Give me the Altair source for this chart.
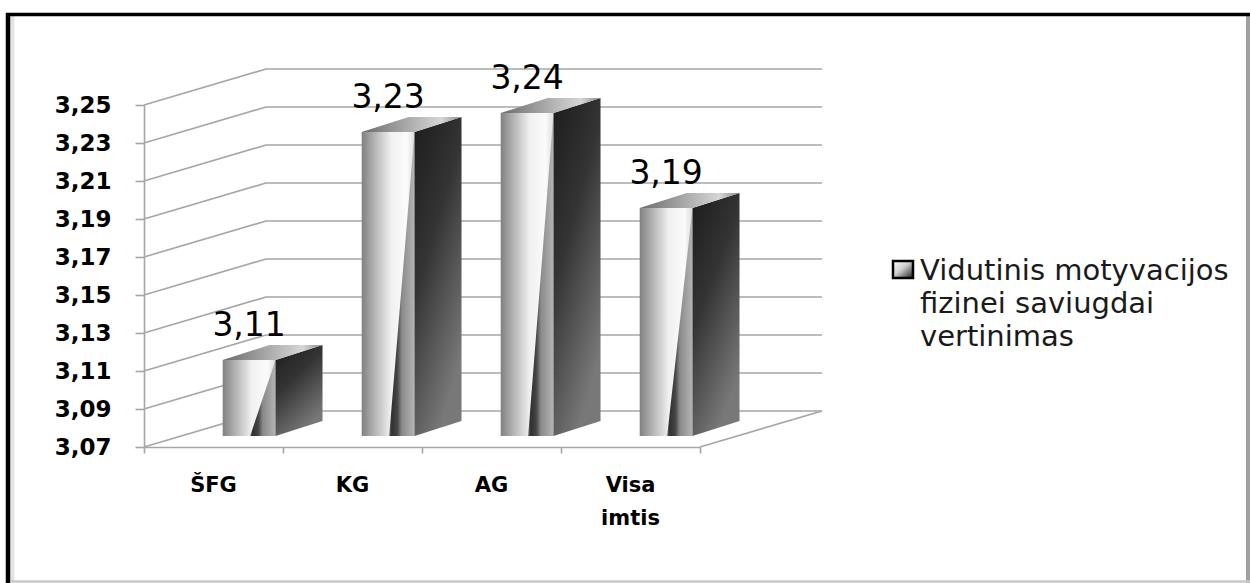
import altair as alt
import pandas as pd

# ---- data -------------------------------------------------------------
categories = ["ŠFG", "KG", "AG", "Visa imtis"]
scores = [3.11, 3.23, 3.24, 3.19]
y_ticks = [3.07, 3.09, 3.11, 3.13, 3.15, 3.17, 3.19, 3.21, 3.23, 3.25]
series_lines = ["Vidutinis motyvacijos", "fizinei saviugdai", "vertinimas"]

# ---- geometry / style --------------------------------------------------
Y_MIN, Y_MAX = 3.07, 3.25
W, H = 556, 342
N = len(categories)
X_PER_PX = N / W
Y_PER_PX = (Y_MAX - Y_MIN) / H

WALL_DX, WALL_DY = 122, 36      # depth of floor / back wall (px)
BAR_DX, BAR_DY = 37, 11         # bars stand a third of the way into the floor
SIDE_DX, SIDE_DY = 47, 15       # visible depth of each column
BAR_L, BAR_R = 0.30, 0.68       # column front face inside its category slot
WEDGE_START = 0.52

GRID = "#a6a6a6"
FONT = "DejaVu Sans"

x_scale = alt.Scale(domain=[0, N], nice=False, zero=False)
y_scale = alt.Scale(domain=[Y_MIN, Y_MAX], nice=False, zero=False)

# one shared axis definition for every layer so the layers merge cleanly
X_AXIS = alt.Axis(values=list(range(N + 1)), labels=False, grid=False, title=None,
                  tickSize=6, tickColor=GRID, tickWidth=1.6,
                  domainColor=GRID, domainWidth=1.6)
Y_AXIS = alt.Axis(values=y_ticks, grid=False, title=None,
                  labelExpr="replace(format(datum.value, '.2f'), '.', ',')",
                  labelFont=FONT, labelFontWeight="bold", labelFontSize=23,
                  labelColor="#000000", labelPadding=24,
                  tickSize=9, tickColor=GRID, tickWidth=1.6,
                  domainColor=GRID, domainWidth=1.6)


def X(field):
    return alt.X(field, type="quantitative", scale=x_scale, axis=X_AXIS)


def Y(field):
    return alt.Y(field, type="quantitative", scale=y_scale, axis=Y_AXIS)


def grad(stops, x1=0, y1=0, x2=1, y2=0):
    return alt.Gradient(
        gradient="linear",
        stops=[alt.GradientStop(color=c, offset=o) for o, c in stops],
        x1=x1, y1=y1, x2=x2, y2=y2,
    )


def comma(v):
    return f"{v:.2f}".replace(".", ",")


# ---- tables ------------------------------------------------------------
grid_df = pd.DataFrame({"tick": y_ticks, "left": 0, "right": N})
floor_df = pd.DataFrame({"tick": [Y_MIN], "right": [N]})

bars = []
wedge, side, top, cat_rows = [], [], [], []
for i, (c, v) in enumerate(zip(categories, scores)):
    x0, x1 = i + BAR_L, i + BAR_R
    bars.append({"cat": c, "x0": x0, "x1": x1, "xc": (x0 + x1) / 2,
                 "value": v, "base": Y_MIN, "label": comma(v)})
    xw = x0 + WEDGE_START * (x1 - x0)
    wedge += [{"cat": c, "px": xw, "top": Y_MIN, "bot": Y_MIN},
              {"cat": c, "px": x1, "top": v, "bot": Y_MIN}]
    sx, sy = SIDE_DX * X_PER_PX, SIDE_DY * Y_PER_PX
    side += [{"cat": c, "px": x1, "top": v, "bot": Y_MIN},
             {"cat": c, "px": x1 + sx, "top": v + sy, "bot": Y_MIN + sy}]
    top += [{"cat": c, "py": v, "xa": x0, "xb": x1},
            {"cat": c, "py": v + sy, "xa": x0 + sx, "xb": x1 + sx}]
    cat_rows.append({"cat": c, "xm": i + 0.5, "base": Y_MIN,
                     "text": c.replace(" ", "\n")})

bars_df = pd.DataFrame(bars)
wedge_df = pd.DataFrame(wedge)
side_df = pd.DataFrame(side)
top_df = pd.DataFrame(top)
cat_df = pd.DataFrame(cat_rows)

# ---- back wall, floor ------------------------------------------------------
wall_diag = alt.Chart(grid_df).mark_rule(
    color=GRID, strokeWidth=1.6, x2Offset=WALL_DX, y2Offset=-WALL_DY
).encode(x=X("left"), x2="left:Q", y=Y("tick"), y2="tick:Q")

wall_back = alt.Chart(grid_df).mark_rule(
    color=GRID, strokeWidth=1.6, xOffset=WALL_DX, x2Offset=WALL_DX, yOffset=-WALL_DY
).encode(x=X("left"), x2="right:Q", y=Y("tick"))

floor_side = alt.Chart(floor_df).mark_rule(
    color=GRID, strokeWidth=1.6, x2Offset=WALL_DX, y2Offset=-WALL_DY
).encode(x=X("right"), x2="right:Q", y=Y("tick"), y2="tick:Q")

# ---- columns --------------------------------------------------------------
front_grad = grad([(0, "#808080"), (0.2, "#ababab"), (0.55, "#f0f0f0"),
                   (0.85, "#fbfbfb"), (1, "#dcdcdc")])
wedge_grad = grad([(0, "#6a6a6a"), (0.1, "#303030"), (0.32, "#454545"),
                   (0.5, "#8a8a8a"), (1, "#b4b4b4")])
side_grad = grad([(0, "#1c1c1c"), (0.45, "#343434"), (1, "#787878")],
                 x1=0, y1=0, x2=0.5, y2=1)
top_grad = grad([(0, "#6a6a6a"), (0.5, "#b0b0b0"), (0.8, "#d6d6d6"), (1, "#8a8a8a")])

front = alt.Chart(bars_df).mark_rect(
    fill=front_grad, xOffset=BAR_DX, x2Offset=BAR_DX,
    yOffset=-BAR_DY, y2Offset=-BAR_DY
).encode(x=X("x0"), x2="x1:Q", y=Y("value"), y2="base:Q")

wedge_face = alt.Chart(wedge_df).mark_area(
    fill=wedge_grad, xOffset=BAR_DX, yOffset=-BAR_DY, y2Offset=-BAR_DY
).encode(x=X("px"), y=Y("top"), y2="bot:Q", detail="cat:N")

side_face = alt.Chart(side_df).mark_area(
    fill=side_grad, xOffset=BAR_DX, yOffset=-BAR_DY, y2Offset=-BAR_DY
).encode(x=X("px"), y=Y("top"), y2="bot:Q", detail="cat:N")

top_face = alt.Chart(top_df).mark_area(
    fill=top_grad, orient="horizontal",
    xOffset=BAR_DX, x2Offset=BAR_DX, yOffset=-BAR_DY
).encode(y=Y("py"), x=X("xa"), x2="xb:Q", detail="cat:N")

value_labels = alt.Chart(bars_df).mark_text(
    font=FONT, fontSize=33, color="#000000", align="center",
    baseline="alphabetic", xOffset=BAR_DX, yOffset=-BAR_DY - 24
).encode(x=X("xc"), y=Y("value"), text="label:N")

cat_labels = alt.Chart(cat_df).mark_text(
    font=FONT, fontSize=21, fontWeight="bold", color="#000000",
    align="center", baseline="top", lineBreak="\n", lineHeight=33, yOffset=28
).encode(x=X("xm"), y=Y("base"), text="text:N")

# ---- legend -----------------------------------------------------------------
legend_swatch = alt.Chart(pd.DataFrame({"k": [0]})).mark_rect(
    fill=grad([(0, "#ffffff"), (0.45, "#d0d0d0"), (1, "#202020")], x1=0, y1=0, x2=1, y2=1),
    stroke="#000000", strokeWidth=2.5
).encode(x=alt.value(749), x2=alt.value(769), y=alt.value(156), y2=alt.value(173))

legend_text = alt.Chart(pd.DataFrame({"t": ["\n".join(series_lines)]})).mark_text(
    font=FONT, fontSize=29, color="#1a1a1a", align="left", baseline="alphabetic",
    lineBreak="\n", lineHeight=33
).encode(x=alt.value(776), y=alt.value(175), text="t:N")

# ---- frame ------------------------------------------------------------------
frame_df = pd.DataFrame({"k": [0]})
frame_top = alt.Chart(frame_df).mark_rule(color="#000000", strokeWidth=3.5).encode(
    x=alt.value(-138), x2=alt.value(1106), y=alt.value(-90.5))
frame_left = alt.Chart(frame_df).mark_rule(color="#000000", strokeWidth=4.5).encode(
    x=alt.value(-136), y=alt.value(-92), y2=alt.value(478))
frame_left_shade = alt.Chart(frame_df).mark_rule(color="#e4e4e4", strokeWidth=4).encode(
    x=alt.value(-131.5), y=alt.value(-89), y2=alt.value(476))
frame_right = alt.Chart(frame_df).mark_rule(color="#a0a0a0", strokeWidth=4).encode(
    x=alt.value(1104), y=alt.value(-89), y2=alt.value(478))
frame_bottom = alt.Chart(frame_df).mark_rule(color="#c8c8c8", strokeWidth=2.5).encode(
    x=alt.value(-133), x2=alt.value(1106), y=alt.value(476.5))

chart = alt.layer(
    wall_diag, wall_back, floor_side,
    front, wedge_face, side_face, top_face,
    value_labels, cat_labels, legend_swatch, legend_text,
    frame_left_shade, frame_right, frame_bottom, frame_top, frame_left,
).properties(
    width=W, height=H, autosize="none",
    padding={"left": 144, "top": 105, "right": 550, "bottom": 136},
    background="#ffffff",
).configure_view(stroke="transparent")

chart.save("out.html", embed_options={"renderer": "svg", "actions": False})
